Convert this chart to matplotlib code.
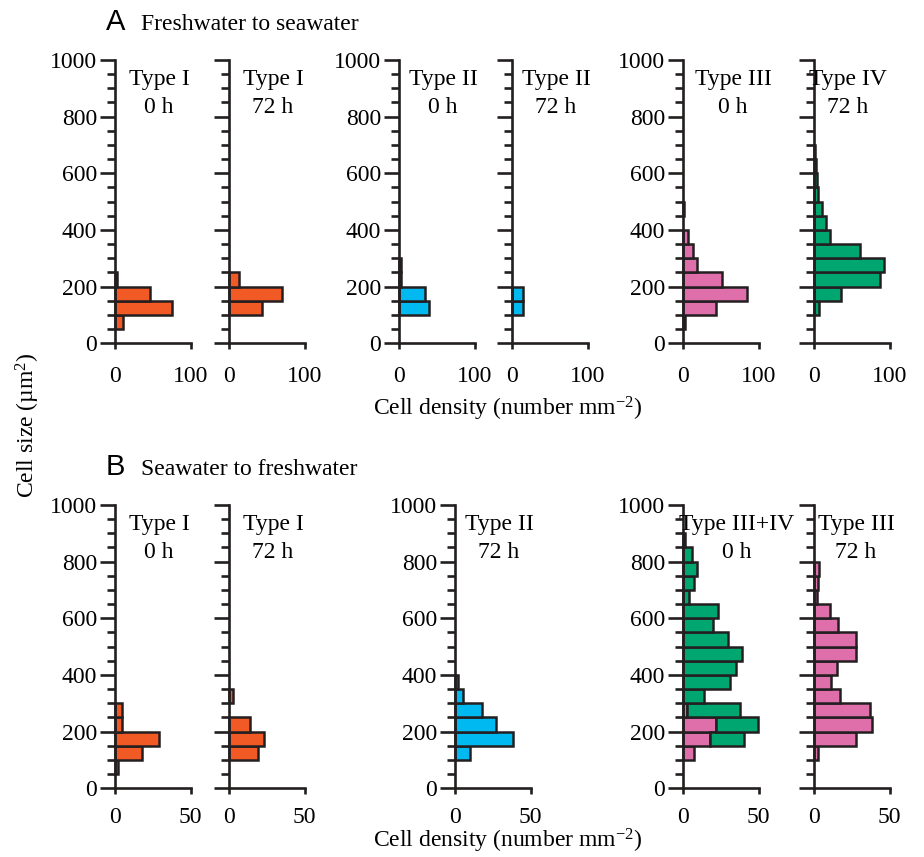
import numpy as np
import matplotlib
matplotlib.use("Agg")
import matplotlib.pyplot as plt

plt.rcParams["font.family"] = ["Liberation Serif", "DejaVu Serif"]
plt.rcParams["mathtext.fontset"] = "custom"
plt.rcParams["mathtext.rm"] = "Liberation Serif"
plt.rcParams["mathtext.it"] = "Liberation Serif:italic"

# size bins (lower edges, um^2), 50 wide
BIN_LO = [0, 50, 100, 150, 200, 250, 300, 350, 400, 450,
          500, 550, 600, 650, 700, 750, 800, 850, 900, 950]

# A: freshwater -> seawater (cells per mm^2 in each size bin)
fw_type1_0h = [0, 10, 75, 46, 3, 0, 0, 0, 0, 0, 0, 0, 0, 0, 0, 0, 0, 0, 0, 0]
fw_type1_72h = [0, 0, 44, 70, 13, 0, 0, 0, 0, 0, 0, 0, 0, 0, 0, 0, 0, 0, 0, 0]
fw_type2_0h = [0, 0, 40, 35, 3, 2, 0, 0, 0, 0, 0, 0, 0, 0, 0, 0, 0, 0, 0, 0]
fw_type2_72h = [0, 0, 15, 15, 0, 0, 0, 0, 0, 0, 0, 0, 0, 0, 0, 0, 0, 0, 0, 0]
fw_type3_0h = [0, 3, 43, 85, 52, 18, 13, 7, 0, 1.5, 0, 0, 0, 0, 0, 0, 0, 0, 0, 0]
fw_type4_72h = [0, 0, 7, 36, 87, 93, 61, 21, 16, 11, 5, 4, 3, 1, 0, 0, 0, 0, 0, 0]

# B: seawater -> freshwater
sf_type1_0h = [0, 2, 18, 29, 4.4, 4.4, 0, 0, 0, 0, 0, 0, 0, 0, 0, 0, 0, 0, 0, 0]
sf_type1_72h = [0, 0, 19, 23, 14, 0, 2.5, 0, 0, 0, 0, 0, 0, 0, 0, 0, 0, 0, 0, 0]
sf_type2_72h = [0, 0, 10, 38, 27, 18, 5, 2, 0, 0, 0, 0, 0, 0, 0, 0, 0, 0, 0, 0]
sf_type3_0h = [0, 0, 7, 18, 21.5, 2.7, 0, 0, 0, 0, 0, 0, 0, 0, 0, 0, 0, 0, 0, 0]
sf_type4_0h = [0, 0, 0, 22, 28, 35, 14, 31, 35, 39, 30, 20, 23, 4, 7, 9, 6, 1.5, 0, 0]
sf_type3_72h = [0, 0, 2.7, 28, 38, 37, 17, 11, 15, 28, 28, 16, 10.4, 2, 2.7, 3, 0, 0, 0, 0]

ORANGE = "#F15A24"
BLUE = "#00B9F0"
PINK = "#DE6FAB"
GREEN = "#00A66F"
EDGE = "#231F20"

W, H = 924, 857
AX_W, AX_H = 75.7, 283.3
FS = 17

fig = plt.figure(figsize=(W / 100, H / 100), dpi=100)


def hbars(ax, vals, color, left=None):
    vals = np.asarray(vals, dtype=float)
    lo = np.asarray(BIN_LO, dtype=float)
    base = np.zeros_like(vals) if left is None else np.asarray(left, dtype=float)
    m = vals > 0
    ax.barh(lo[m], vals[m], height=50, left=base[m], align="edge", color=color,
            edgecolor=EDGE, linewidth=1.8, clip_on=False, zorder=2)


def panel(x0, y_zero, xmax, series, ylabels, title, xpad):
    ax = fig.add_axes([x0 / W, (H - y_zero) / H, AX_W / W, AX_H / H])
    for vals, color, left in series:
        hbars(ax, vals, color, left)
    ax.set_xlim(0, xmax)
    ax.set_ylim(0, 1000)
    ax.patch.set_visible(False)
    for s in ("top", "right"):
        ax.spines[s].set_visible(False)
    for s in ("left", "bottom"):
        ax.spines[s].set_linewidth(1.9)
        ax.spines[s].set_color(EDGE)
        ax.spines[s].set_zorder(3)
    ax.set_yticks([0, 200, 400, 600, 800, 1000])
    ax.set_yticks(BIN_LO[1::], minor=True)
    ax.set_xticks([0, xmax])
    ax.tick_params(axis="y", which="major", length=10.8, width=1.9, color=EDGE,
                   pad=2, labelsize=FS, labelleft=ylabels)
    ax.tick_params(axis="y", which="minor", length=5.8, width=1.9, color=EDGE)
    ax.tick_params(axis="x", length=4.5, width=1.9, color=EDGE, pad=xpad, labelsize=FS)
    cx = title[0]
    fig.text(cx / W, 1 - (y_zero - 258) / H, title[1], ha="center", va="baseline", fontsize=FS)
    fig.text(cx / W, 1 - (y_zero - 230) / H, title[2], ha="center", va="baseline", fontsize=FS)
    return ax


# A
ya = 343.3
panel(115, ya, 100, [(fw_type1_0h, ORANGE, None)], True, (159, "Type I", "0 h"), 12)
panel(229, ya, 100, [(fw_type1_72h, ORANGE, None)], False, (273, "Type I", "72 h"), 12)
panel(399, ya, 100, [(fw_type2_0h, BLUE, None)], True, (443, "Type II", "0 h"), 12)
panel(512, ya, 100, [(fw_type2_72h, BLUE, None)], False, (556, "Type II", "72 h"), 12)
panel(683, ya, 100, [(fw_type3_0h, PINK, None)], True, (733, "Type III", "0 h"), 12)
panel(814, ya, 100, [(fw_type4_72h, GREEN, None)], False, (848, "Type IV", "72 h"), 12)

# B
yb = 788.3
panel(115, yb, 50, [(sf_type1_0h, ORANGE, None)], True, (159, "Type I", "0 h"), 9)
panel(229, yb, 50, [(sf_type1_72h, ORANGE, None)], False, (273, "Type I", "72 h"), 9)
panel(455, yb, 50, [(sf_type2_72h, BLUE, None)], True, (499, "Type II", "72 h"), 9)
panel(683, yb, 50, [(sf_type3_0h, PINK, None), (sf_type4_0h, GREEN, sf_type3_0h)], True,
      (737, "Type III+IV", "0 h"), 9)
panel(814, yb, 50, [(sf_type3_72h, PINK, None)], False, (856, "Type III", "72 h"), 9)

# headings and axis titles
for lab, txt, yb_ in (("A", "Freshwater to seawater", 30), ("B", "Seawater to freshwater", 475)):
    fig.text(106 / W, 1 - yb_ / H, lab, family="Liberation Sans", fontsize=FS + 4, va="baseline")
    fig.text(141 / W, 1 - yb_ / H, txt, fontsize=FS, va="baseline")

xlab = "Cell density (number mm$^{\u22122}$)"
fig.text(508 / W, 1 - 409 / H, xlab, ha="center", va="center", fontsize=FS)
fig.text(508 / W, 1 - 855 / H, xlab, ha="center", va="bottom", fontsize=FS)
fig.text(28 / W, 1 - 425 / H, "Cell size (\u00b5m$^2$)", rotation=90, ha="center", va="center",
         fontsize=FS)

fig.savefig("out.png", dpi=100)
